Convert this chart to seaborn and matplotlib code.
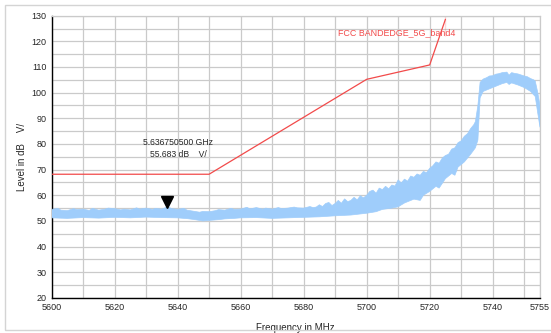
import matplotlib
matplotlib.use("Agg")
import matplotlib.pyplot as plt
import matplotlib.transforms as mtransforms
from matplotlib.patches import Rectangle
import numpy as np
import pandas as pd
import seaborn as sns

# --- limit line (FCC band edge, band 4)
limit_freq = [5600, 5650, 5700, 5720, 5725, 5725]
limit_level = [68.2, 68.2, 105.2, 110.8, 122.2, 135.0]

# --- measured trace: upper edge of the noisy sweep
high_freq = [5600, 5602, 5603, 5605, 5607, 5608, 5610, 5612, 5613, 5615, 5617, 5618,
             5620, 5622, 5623, 5625, 5627, 5628, 5630, 5632, 5633, 5635, 5637, 5638,
             5640, 5642, 5643, 5645, 5647, 5648, 5650, 5652, 5653, 5655, 5657, 5658,
             5660, 5662, 5663, 5665, 5667, 5668, 5670, 5672, 5673, 5675, 5677, 5678,
             5680, 5682, 5683, 5684, 5685, 5686, 5687, 5688, 5689, 5690, 5691, 5692,
             5693, 5694, 5695, 5696, 5697, 5698, 5699, 5700, 5701, 5702, 5703, 5704,
             5705, 5706, 5707, 5708, 5709, 5710, 5711, 5712, 5713, 5714, 5715, 5716,
             5717, 5718, 5719, 5720, 5721, 5722, 5723, 5724, 5725, 5726, 5727, 5728,
             5729, 5730, 5731, 5732, 5733, 5734, 5734.5, 5735.3, 5736, 5737, 5738, 5739,
             5740, 5741, 5742, 5743, 5744.5, 5745.2, 5746, 5747, 5748, 5749, 5750, 5751,
             5752, 5753, 5753.5, 5754.3, 5755]
high_level = [54.5, 54.9, 54.2, 54.0, 54.8, 54.4, 54.6, 54.1, 54.9, 54.2, 54.6, 55.0,
              54.8, 54.3, 54.6, 54.3, 55.1, 54.6, 55.0, 54.5, 54.9, 54.6, 55.6, 54.8,
              54.5, 54.9, 54.2, 53.8, 53.4, 53.7, 53.6, 54.0, 54.4, 54.2, 54.9, 54.5,
              54.6, 55.3, 54.7, 55.2, 54.6, 55.0, 54.6, 55.2, 54.8, 55.0, 55.4, 55.1,
              55.0, 55.6, 55.2, 55.4, 56.3, 55.6, 56.8, 57.2, 56.0, 56.8, 58.0, 56.9,
              58.6, 57.5, 58.0, 59.2, 58.2, 59.8, 59.0, 60.0, 61.5, 62.0, 60.8, 62.8,
              62.2, 63.5, 62.5, 64.0, 63.6, 66.0, 64.8, 66.3, 65.5, 67.5, 67.0, 68.3,
              67.8, 69.3, 68.8, 70.5, 71.5, 73.0, 72.5, 74.5, 75.5, 76.0, 78.0, 78.5,
              80.5, 81.2, 83.0, 84.0, 86.0, 87.5, 88.7, 95.0, 104.0, 105.3, 105.8, 106.5,
              106.6, 107.2, 107.4, 107.8, 108.0, 106.8, 107.8, 107.5, 107.3, 106.9, 106.5, 106.2,
              105.5, 105.0, 104.5, 100.0, 95.0]

# --- measured trace: lower edge of the noisy sweep
low_freq = [5600, 5605, 5610, 5615, 5620, 5625, 5630, 5635, 5640, 5643, 5645, 5648,
            5650, 5653, 5655, 5658, 5660, 5665, 5670, 5675, 5680, 5685, 5690, 5695,
            5700, 5703, 5705, 5708, 5710, 5712, 5715, 5717, 5718, 5720, 5722, 5723,
            5725, 5727, 5728, 5729, 5731, 5733, 5734.5, 5735.3, 5736, 5737, 5739, 5741,
            5743, 5744.5, 5745.2, 5746, 5748, 5750, 5752, 5753.5, 5754.3, 5755]
low_level = [51.2, 51.0, 51.3, 51.1, 51.4, 51.2, 51.5, 51.3, 51.2, 50.9, 50.6, 50.0,
             50.2, 50.5, 50.8, 51.0, 51.2, 51.3, 51.0, 51.2, 51.4, 51.6, 52.0, 52.3,
             53.0, 53.6, 54.5, 55.0, 55.5, 57.0, 58.5, 58.0, 60.0, 61.5, 63.5, 62.8,
             66.5, 68.5, 67.8, 71.0, 73.0, 76.0, 78.5, 81.5, 98.0, 100.5, 101.5, 102.5,
             103.5, 104.0, 103.2, 103.8, 103.0, 102.0, 100.5, 98.5, 92.0, 86.5]

# --- marker
marker_freq = 5636.7505
marker_level = 55.683
marker_text = "5.636750500 GHz\n55.683 dB    V/"

x_major = [5600, 5620, 5640, 5660, 5680, 5700, 5720, 5740, 5755]
x_minor = [5610, 5630, 5650, 5670, 5690, 5710, 5730, 5750]

sns.set_style("white")
plt.rcParams['font.family'] = ['Liberation Sans', 'DejaVu Sans']

fig = plt.figure(figsize=(5.51, 3.33), dpi=100)
ax = fig.add_axes([0.0935, 0.1054, 0.8865, 0.8475])

fig.patches.append(Rectangle((5 / 551, 3 / 333), 1.2, 325 / 333, transform=fig.transFigure,
                             fill=False, edgecolor="#d4d4d4", linewidth=1.0))

outline_x = np.concatenate([high_freq, low_freq[::-1]])
outline_y = np.concatenate([high_level, low_level[::-1]])
ax.fill(outline_x, outline_y, color="#9fcdfb", linewidth=0.5, edgecolor="#9fcdfb", zorder=3)

limit_df = pd.DataFrame({"freq": limit_freq, "level": limit_level})
sns.lineplot(data=limit_df, x="freq", y="level", sort=False, color="#f24a4a",
             linewidth=0.9, ax=ax, zorder=4)

offset = mtransforms.ScaledTranslation(0, 4.5 / 100, fig.dpi_scale_trans)
ax.plot([marker_freq], [marker_level], marker="v", color="black", markersize=8,
        linestyle="none", transform=ax.transData + offset, zorder=5)
ax.text(marker_freq + 3.5, 78.3, marker_text, ha="center", va="center", fontsize=6.2,
        linespacing=1.35, zorder=5)
ax.text(5709.5, 123.5, "FCC BANDEDGE_5G_band4", color="#f24a4a", ha="center",
        va="center", fontsize=6.4, zorder=5)

ax.set_xlim(5600, 5755)
ax.set_ylim(20, 130)
ax.set_xticks(x_major)
ax.set_xticks(x_minor, minor=True)
ax.set_yticks(range(20, 131, 10))
ax.set_yticks(range(25, 130, 10), minor=True)
ax.grid(True, which="both", color="#cacaca", linewidth=0.9)
ax.set_axisbelow(True)
ax.tick_params(which="both", direction="inout", length=4, width=0.8, labelsize=6.5,
               pad=1.5, color="black")
ax.set_xlabel("Frequency in MHz", fontsize=7, labelpad=8)
ax.set_ylabel("Level in dB    V/", fontsize=7, labelpad=3)

for side in ["left", "bottom"]:
    ax.spines[side].set_color("black")
    ax.spines[side].set_linewidth(1.0)
for side in ["top", "right"]:
    ax.spines[side].set_color("#cacaca")
    ax.spines[side].set_linewidth(0.9)

fig.savefig("out.png", dpi=100)
